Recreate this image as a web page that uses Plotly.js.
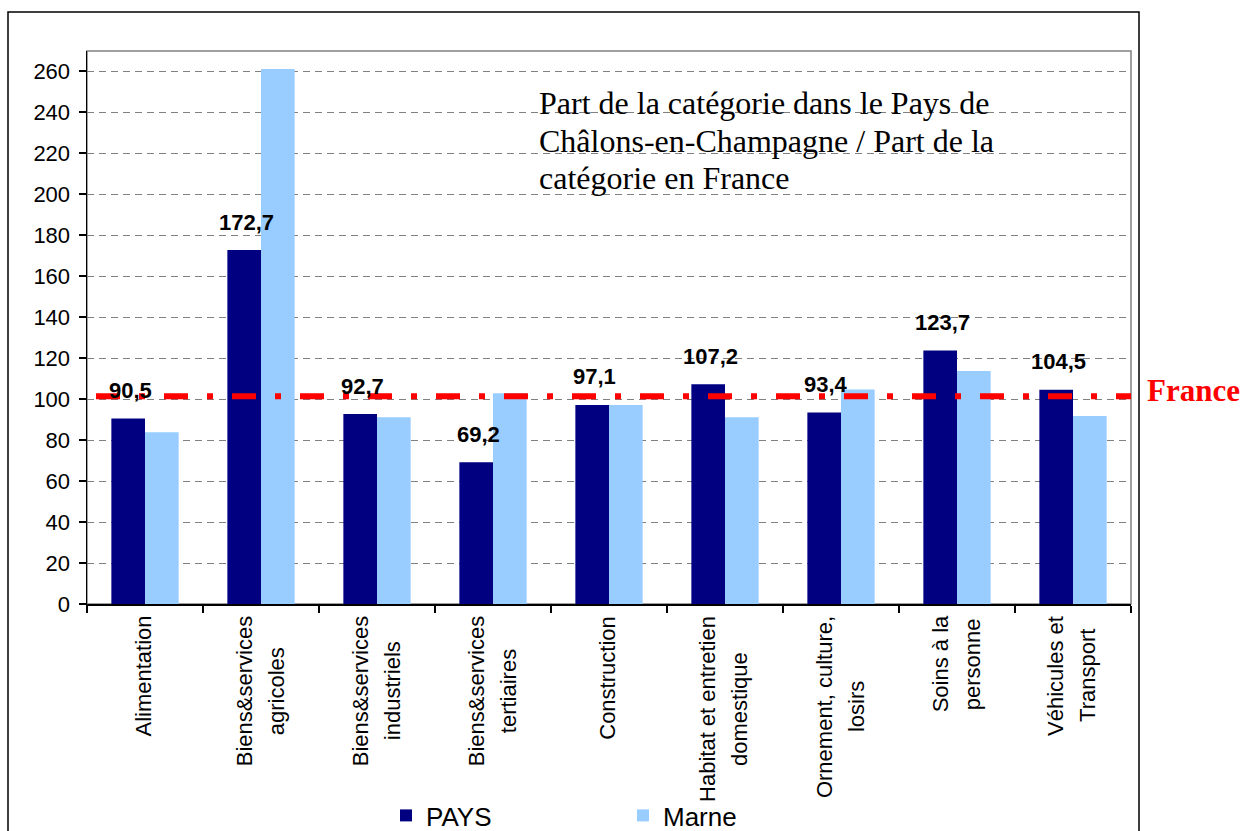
<!DOCTYPE html>
<html>
<head>
<meta charset="utf-8">
<script src="https://cdn.plot.ly/plotly-3.0.1.min.js"></script>
<style>html,body{margin:0;padding:0;background:#fff;}#chart{width:1243px;height:831px;}</style>
</head>
<body>
<div id="chart"></div>
<script>
// ---- data ----
var categories = [
  "Alimentation",
  "Biens&services\nagricoles",
  "Biens&services\nindustriels",
  "Biens&services\ntertiaires",
  "Construction",
  "Habitat et entretien\ndomestique",
  "Ornement, culture,\nlosirs",
  "Soins à la\npersonne",
  "Véhicules et\nTransport"
];
var paysValues  = [90.5, 172.7, 92.7, 69.2, 97.1, 107.2, 93.4, 123.7, 104.5];
var marneValues = [83.8, 261.0, 91.1, 102.8, 97.1, 91.1, 104.7, 113.7, 91.7];
var yTickValues = [0, 20, 40, 60, 80, 100, 120, 140, 160, 180, 200, 220, 240, 260];
var franceLevel = 101.3;
var seriesNames = ["PAYS", "Marne"];
var boxLines = [
  "Part de la catégorie dans le Pays de",
  "Châlons-en-Champagne / Part de la",
  "catégorie en France"
];
var franceLabel = "France";

// ---- layout geometry (pixels) ----
var W = 1243, H = 831;
var L = 87, R = 1131, T = 51, B = 604;
var pw = R - L, ph = B - T;
function px2x(p){ return (p - L) / pw; }
function py2y(p){ return (B - p) / ph; }

var sans = "Arial, 'Liberation Sans', sans-serif";
var serif = "'Times New Roman', 'Liberation Serif', serif";

var traces = [
  {type: "bar", name: seriesNames[0], x: categories, y: paysValues,
   marker: {color: "#000080"}, hoverinfo: "none"},
  {type: "bar", name: seriesNames[1], x: categories, y: marneValues,
   marker: {color: "#99CCFF"}, hoverinfo: "none"}
];

var annotations = [];
// data labels above PAYS bars
paysValues.forEach(function(v, i){
  annotations.push({
    x: categories[i], y: v, xref: "x", yref: "y",
    text: v.toFixed(1).replace(".", ","),
    showarrow: false, xanchor: "center", yanchor: "middle",
    xshift: -15, yshift: 28,
    font: {family: sans, size: 22, color: "#000", weight: "bold"}
  });
});

// category labels (rotated, centered lines)
var labelSize = 22;
var cvs = document.createElement("canvas").getContext("2d");
cvs.font = labelSize + "px Arial, 'Liberation Sans'";
categories.forEach(function(c, i){
  var lines = c.split("\n");
  var maxW = 0;
  lines.forEach(function(l){ maxW = Math.max(maxW, cvs.measureText(l).width); });
  var centerPx = 616 + maxW / 2;
  var n = lines.length;
  lines.forEach(function(l, j){
    annotations.push({
      x: categories[i], xref: "x", yref: "paper", y: py2y(centerPx),
      text: l, showarrow: false, textangle: -90,
      xanchor: "center", yanchor: "middle",
      xshift: (j - (n - 1) / 2) * 32 - 1,
      font: {family: sans, size: labelSize, color: "#000"}
    });
  });
});

// text box (one annotation per line, 37px line pitch)
boxLines.forEach(function(t, j){
  annotations.push({
    xref: "paper", yref: "paper", x: px2x(537), y: py2y(103.5 + 37 * j),
    xanchor: "left", yanchor: "middle", align: "left",
    text: t, showarrow: false,
    font: {family: serif, size: 32, color: "#000"}
  });
});
// France label
annotations.push({
  xref: "paper", yref: "y", x: px2x(1145), y: franceLevel,
  xanchor: "left", yanchor: "middle", yshift: 6,
  text: franceLabel, showarrow: false,
  font: {family: serif, size: 31, color: "#FF0000", weight: "bold"}
});

var shapes = [
  // plot area frame (grey)
  {type: "rect", xref: "paper", yref: "paper", x0: 0, x1: 1, y0: 0, y1: 1,
   line: {color: "#808080", width: 1.5}, layer: "below"},
  // outer chart border
  {type: "rect", xref: "paper", yref: "paper", x0: px2x(8), x1: px2x(1139), y0: py2y(850), y1: py2y(12),
   line: {color: "#000", width: 1.5}, layer: "above"},
  // France reference line
  {type: "line", xref: "paper", yref: "y", x0: px2x(96), x1: 1, y0: franceLevel, y1: franceLevel,
   line: {color: "#FF0000", width: 6, dash: "24px,19px,6px,19px"}, layer: "above"}
];

var layout = {
  width: W, height: H,
  margin: {l: L, r: W - R, t: T, b: H - B, autoexpand: false},
  paper_bgcolor: "#fff", plot_bgcolor: "#fff",
  barmode: "group", bargap: 0.42, bargroupgap: 0,
  showlegend: true,
  legend: {orientation: "h", x: px2x(386), y: py2y(792), xanchor: "left", yanchor: "top",
           font: {family: sans, size: 26, color: "#000"}, entrywidth: 192, entrywidthmode: "pixels",
           bgcolor: "rgba(0,0,0,0)"},
  xaxis: {type: "category", showline: true, linecolor: "#000", linewidth: 1.5,
          ticks: "outside", tickson: "boundaries", ticklen: 7, tickcolor: "#000", tickwidth: 1.5,
          showticklabels: false, showgrid: false, zeroline: false, fixedrange: true},
  yaxis: {range: [0, 269.8], tickvals: yTickValues, ticktext: yTickValues.map(String),
          showline: true, linecolor: "#000", linewidth: 1.5,
          ticks: "outside", ticklen: 7, tickcolor: "#000", tickwidth: 1.5, ticklabelstandoff: 4,
          tickfont: {family: sans, size: 22, color: "#000"},
          showgrid: true, gridcolor: "#808080", gridwidth: 1, griddash: "7px,5px",
          zeroline: false, fixedrange: true},
  annotations: annotations,
  shapes: shapes
};

Plotly.newPlot("chart", traces, layout, {displayModeBar: false, staticPlot: true});
</script>
</body>
</html>
